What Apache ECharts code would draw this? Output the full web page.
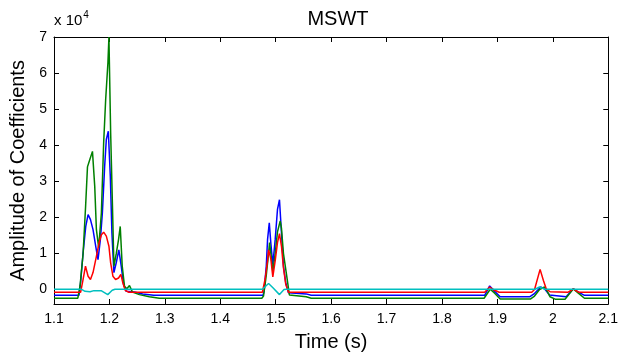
<!DOCTYPE html>
<html>
<head>
<meta charset="utf-8">
<title>MSWT</title>
<script src="https://cdn.jsdelivr.net/npm/echarts@6/dist/echarts.min.js"></script>
<style>
  html, body { margin: 0; padding: 0; background: #fff; }
  #chart { width: 621px; height: 358px; }
</style>
</head>
<body>
<div id="chart"></div>
<script>
// tick values
const timeTicks = [1.1, 1.2, 1.3, 1.4, 1.5, 1.6, 1.7, 1.8, 1.9, 2, 2.1];
const ampTicks = [0, 1, 2, 3, 4, 5, 6, 7];

// [time (s), amplitude x 10^4]
const blueData = [
  [1.1, -0.16], [1.145, -0.16], [1.148, 0.2], [1.1525, 1.02], [1.1573, 1.75], [1.1615, 2.08],
  [1.1658, 1.94], [1.1704, 1.66], [1.1753, 1.2], [1.1794, 0.83], [1.1837, 1.39], [1.1873, 2.13],
  [1.1914, 3.42], [1.1944, 4.16], [1.198, 4.39], [1.2016, 3.14], [1.2045, 1.57], [1.2081, 0.47],
  [1.2124, 0.75], [1.217, 1.1], [1.2213, 0.65], [1.2254, 0.15], [1.2303, -0.05], [1.245, -0.07],
  [1.26, -0.12], [1.28, -0.16],
  [1.477, -0.16], [1.479, -0.05], [1.483, 0.65], [1.4853, 1.39], [1.4884, 1.85], [1.4912, 1.29],
  [1.4948, 0.69], [1.4991, 1.39], [1.5032, 2.22], [1.5068, 2.49], [1.5104, 1.57], [1.514, 0.65],
  [1.5181, 0.19], [1.523, -0.09], [1.555, -0.12], [1.564, -0.16],
  [1.877, -0.16], [1.886, 0.1], [1.895, -0.05], [1.905, -0.2], [1.958, -0.2], [1.966, -0.12],
  [1.978, 0.07], [1.985, 0.02], [1.994, -0.15], [2.024, -0.2], [2.037, 0.02], [2.047, -0.08],
  [2.057, -0.16], [2.1, -0.16]
];

const greenData = [
  [1.1, -0.24], [1.143, -0.24], [1.147, 0.1], [1.1525, 1.0], [1.157, 2.3], [1.1604, 3.4],
  [1.1645, 3.6], [1.1694, 3.83], [1.1735, 2.86], [1.1765, 1.66], [1.1806, 1.16], [1.1855, 2.13],
  [1.1896, 4.07], [1.1932, 5.26], [1.1973, 6.29], [1.1991, 7.0], [1.2022, 4.35], [1.2052, 2.49],
  [1.2081, 0.65], [1.2124, 1.0], [1.2165, 1.39], [1.2195, 1.75], [1.2231, 0.65], [1.2272, 0.09],
  [1.2314, 0.02], [1.2362, 0.11], [1.2416, -0.07], [1.254, -0.14], [1.272, -0.2], [1.29, -0.24],
  [1.475, -0.24], [1.478, -0.18], [1.483, 0.4], [1.4871, 1.0], [1.4889, 1.3], [1.4912, 1.0],
  [1.4948, 0.5], [1.4991, 1.0], [1.5032, 1.6], [1.5081, 1.9], [1.5104, 1.7], [1.514, 1.0],
  [1.5199, 0.37], [1.5247, -0.15], [1.555, -0.2], [1.564, -0.24],
  [1.876, -0.24], [1.887, 0.01], [1.895, -0.1], [1.905, -0.26], [1.96, -0.26], [1.967, -0.18],
  [1.976, 0.0], [1.985, 0.07], [1.99, -0.05], [1.995, -0.2], [2.005, -0.27], [2.022, -0.27],
  [2.037, 0.02], [2.046, -0.1], [2.057, -0.24], [2.1, -0.24]
];

const redData = [
  [1.1, -0.075], [1.148, -0.075], [1.1525, 0.28], [1.1568, 0.65], [1.1615, 0.37], [1.1658, 0.28],
  [1.1704, 0.47], [1.1765, 0.92], [1.1812, 1.29], [1.1855, 1.52], [1.1896, 1.59], [1.1944, 1.48],
  [1.1991, 1.2], [1.2022, 0.74], [1.2063, 0.37], [1.2111, 0.28], [1.2165, 0.32], [1.2206, 0.42],
  [1.2242, 0.19], [1.2285, -0.02], [1.235, -0.075],
  [1.476, -0.075], [1.481, 0.3], [1.4853, 0.8], [1.4871, 1.1], [1.4912, 0.85], [1.4948, 0.35],
  [1.4991, 0.8], [1.5032, 1.3], [1.5068, 1.55], [1.5104, 1.2], [1.514, 0.6], [1.5181, 0.15],
  [1.523, -0.075],
  [1.877, -0.075], [1.886, 0.07], [1.895, -0.02], [1.903, -0.075], [1.962, -0.075], [1.967, 0.0],
  [1.977, 0.56], [1.983, 0.25], [1.988, 0.02], [1.995, -0.06], [2.027, -0.075], [2.037, 0.02],
  [2.047, -0.075], [2.1, -0.075]
];

const cyanData = [
  [1.1, 0.01], [1.149, 0.01], [1.156, -0.05], [1.165, -0.06], [1.172, -0.03], [1.185, -0.03],
  [1.197, -0.14], [1.205, -0.02], [1.21, 0.01],
  [1.476, 0.01], [1.4871, 0.17], [1.495, 0.05], [1.5068, -0.14], [1.515, 0.0], [1.52, 0.01],
  [1.968, 0.01], [1.976, 0.07], [1.986, 0.01], [2.1, 0.01]
];

const FONT = "'Liberation Sans', Arial, sans-serif";

const chart = echarts.init(document.getElementById('chart'));

const boxAxis = {
  axisLine: { show: true, onZero: false, lineStyle: { color: '#000', width: 1 } },
  splitLine: { show: false }
};

const option = {
  animation: false,
  backgroundColor: '#fff',
  title: {
    text: 'MSWT',
    left: 333,
    top: 4,
    textAlign: 'center',
    textStyle: { fontFamily: FONT, fontSize: 20, fontWeight: 'normal', color: '#000' }
  },
  graphic: [{
    type: 'text',
    left: 54,
    top: 10,
    style: {
      text: '{a|x 10}{b|4}',
      rich: {
        a: { fontFamily: FONT, fontSize: 15, fill: '#000', verticalAlign: 'bottom' },
        b: { fontFamily: FONT, fontSize: 10, fill: '#000', verticalAlign: 'top', padding: [0, 0, 8, 1] }
      }
    }
  }],
  grid: { left: 54, right: 9, top: 37, bottom: 54, containLabel: false },
  xAxis: [{
    ...boxAxis,
    type: 'value',
    min: 1.1,
    max: 2.1,
    name: 'Time (s)',
    nameLocation: 'middle',
    nameGap: 28,
    nameTextStyle: { fontFamily: FONT, fontSize: 20, color: '#000' },
    axisTick: { show: true, inside: true, length: 5, customValues: timeTicks, lineStyle: { color: '#000' } },
    axisLabel: {
      show: true, customValues: timeTicks, margin: 8,
      fontFamily: FONT, fontSize: 14, color: '#000',
      formatter: v => String(Math.round(v * 10) / 10)
    }
  }, {
    ...boxAxis,
    type: 'value',
    position: 'top',
    min: 1.1,
    max: 2.1,
    axisTick: { show: true, inside: true, length: 5, customValues: timeTicks, lineStyle: { color: '#000' } },
    axisLabel: { show: false }
  }],
  yAxis: [{
    ...boxAxis,
    type: 'value',
    min: -0.4,
    max: 7,
    name: 'Amplitude of Coefficients',
    nameLocation: 'middle',
    nameRotate: 90,
    nameGap: 26,
    nameTextStyle: { fontFamily: FONT, fontSize: 20, color: '#000' },
    axisTick: { show: true, inside: true, length: 5, customValues: ampTicks, lineStyle: { color: '#000' } },
    axisLabel: {
      show: true, customValues: ampTicks, margin: 7,
      fontFamily: FONT, fontSize: 14, color: '#000'
    }
  }, {
    ...boxAxis,
    type: 'value',
    position: 'right',
    min: -0.4,
    max: 7,
    axisTick: { show: true, inside: true, length: 5, customValues: ampTicks, lineStyle: { color: '#000' } },
    axisLabel: { show: false }
  }],
  series: [
    { name: 'blue', data: blueData, color: '#0000ff' },
    { name: 'green', data: greenData, color: '#008000' },
    { name: 'red', data: redData, color: '#ff0000' },
    { name: 'cyan', data: cyanData, color: '#00bfbf' }
  ].map(s => ({
    name: s.name,
    type: 'line',
    data: s.data,
    xAxisIndex: 0,
    yAxisIndex: 0,
    showSymbol: false,
    symbol: 'none',
    clip: true,
    lineStyle: { color: s.color, width: 1.5 },
    itemStyle: { color: s.color }
  }))
};

chart.setOption(option);
</script>
</body>
</html>
